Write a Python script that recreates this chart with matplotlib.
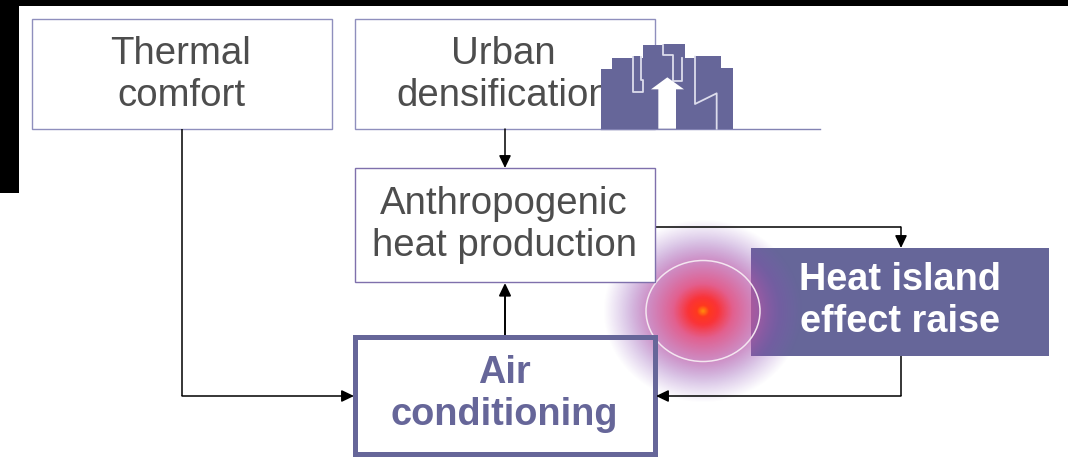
"""Urban heat island feedback diagram, drawn in image pixel coordinates."""

import matplotlib

matplotlib.use("Agg")  # headless
import matplotlib.pyplot as plt  # noqa: E402
import numpy as np  # noqa: E402
from matplotlib.colors import LinearSegmentedColormap  # noqa: E402
from matplotlib.patches import Ellipse, Polygon, Rectangle  # noqa: E402

W, H = 1068, 472
PURPLE = "#666699"
THIN_EDGE = "#8f8fbd"
TEXT_GREY = "#4d4d4d"

# box labels
thermal_label = "Thermal\ncomfort"
urban_label = "Urban\ndensification"
anthro_label = "Anthropogenic\nheat production"
air_label = "Air\nconditioning"
heat_label = "Heat island\neffect raise"


def to_px(points):
    """Convert points measured on the 3x zoom crop of the icon to image pixels."""
    return [(590 + x / 3, 30 + y / 3) for x, y in points]


def box(ax, x0, y0, x1, y1, z=2, lw=1.0, edge=THIN_EDGE, face="white"):
    ax.add_patch(
        Rectangle((x0, y0), x1 - x0, y1 - y0, facecolor=face, edgecolor=edge,
                  linewidth=lw, zorder=z)
    )


def label(ax, x, y, text, color=TEXT_GREY, weight="normal", size=27.6, z=6):
    ax.text(x, y, text, ha="center", va="center", color=color, fontweight=weight,
            fontsize=size, linespacing=1.19, zorder=z, family="Liberation Sans")


def connector(ax, points, z=3, lw=1.1):
    """Polyline ending in a filled arrow head."""
    xs, ys = zip(*points)
    ax.plot(xs[:-1], ys[:-1], color="black", lw=lw, zorder=z, solid_capstyle="butt")
    ax.annotate("", xy=points[-1], xytext=points[-2], zorder=z,
                arrowprops=dict(arrowstyle="-|>,head_length=0.75,head_width=0.36",
                                color="black", lw=lw, shrinkA=0, shrinkB=0))


fig = plt.figure(figsize=(W / 100, H / 100), dpi=100)
ax = fig.add_axes([0, 0, 1, 1])
ax.set_xlim(0, W)
ax.set_ylim(H, 0)
ax.axis("off")

# black leftovers of the screenshot
ax.add_patch(Rectangle((0, 0), W, 6, facecolor="black", zorder=10))
ax.add_patch(Rectangle((0, 0), 19, 193, facecolor="black", zorder=10))

# boxes underneath the glow
box(ax, 32, 19, 332, 129)
box(ax, 355, 19, 655, 129)
ax.add_patch(Rectangle((751, 248), 298, 108, facecolor=PURPLE, zorder=2))

# radial glow
glow_cmap = LinearSegmentedColormap.from_list(
    "glow",
    [(0.00, (1.00, 0.55, 0.05, 1.00)),
     (0.06, (1.00, 0.22, 0.12, 1.00)),
     (0.15, (0.98, 0.20, 0.22, 1.00)),
     (0.30, (0.88, 0.32, 0.52, 0.92)),
     (0.55, (0.72, 0.34, 0.66, 0.68)),
     (0.78, (0.55, 0.30, 0.70, 0.30)),
     (1.00, (0.55, 0.35, 0.75, 0.00))],
)
cx, cy, rx, ry = 703, 311, 100, 92
gx, gy = np.meshgrid(np.linspace(cx - rx, cx + rx, 300), np.linspace(cy - ry, cy + ry, 300))
radius = np.hypot((gx - cx) / rx, (gy - cy) / ry)
ax.imshow(glow_cmap(np.clip(radius, 0, 1)), extent=(cx - rx, cx + rx, cy + ry, cy - ry),
          interpolation="bilinear", aspect="auto", zorder=3)
ax.add_patch(Ellipse((cx, cy), 114, 101, fill=False, edgecolor="#f4e6f0", lw=1.1, zorder=4))
ax.set_xlim(0, W)
ax.set_ylim(H, 0)

# boxes on top of the glow
box(ax, 355, 168, 655, 282, z=4, edge="#7f70ac")
ax.add_patch(Rectangle((355, 337), 300, 117, fill=False, edgecolor=PURPLE, linewidth=3.6, zorder=5))

# connectors
connector(ax, [(505, 129), (505, 168)])
connector(ax, [(505, 337), (505, 283)], lw=1.4)
connector(ax, [(655, 227), (901, 227), (901, 248)])
connector(ax, [(901, 356), (901, 396), (656, 396)], z=6)
connector(ax, [(182, 129), (182, 396), (354, 396)])

# labels
label(ax, 181, 75, thermal_label)
label(ax, 503, 75, urban_label)
label(ax, 504, 225, anthro_label)
label(ax, 504, 394, air_label, color=PURPLE, weight="bold", size=27.3)
label(ax, 900, 301, heat_label, color="white", weight="bold", size=27.3)

# skyline icon over the urban box
skyline = [(33, 296), (33, 118), (66, 118), (66, 83), (128, 83), (128, 78), (150, 78),
           (150, 83), (160, 83), (160, 45), (220, 45), (220, 42), (285, 42), (285, 83),
           (315, 83), (315, 78), (393, 78), (393, 115), (430, 115), (430, 296)]
ax.add_patch(Polygon(to_px(skyline), closed=True, facecolor=PURPLE, edgecolor="none", zorder=7))
for seam in ([(128, 80), (128, 187), (158, 187), (158, 150), (153, 150), (153, 80)],
             [(220, 45), (220, 75), (250, 75), (250, 152), (277, 152), (277, 83)],
             [(315, 80), (315, 222), (380, 190), (380, 296)]):
    sx, sy = zip(*to_px(seam))
    ax.plot(sx, sy, color="#dcdcec", lw=1.3, zorder=8)
arrow = [(205, 296), (205, 178), (183, 178), (232, 142), (282, 178), (258, 178), (258, 296)]
ax.add_patch(Polygon(to_px(arrow), closed=True, facecolor="white", edgecolor="none", zorder=8))
ax.plot([601, 820], [129, 129], color="#8383b3", lw=1.0, zorder=6)

fig.savefig("out.png", dpi=100)
plt.close(fig)
